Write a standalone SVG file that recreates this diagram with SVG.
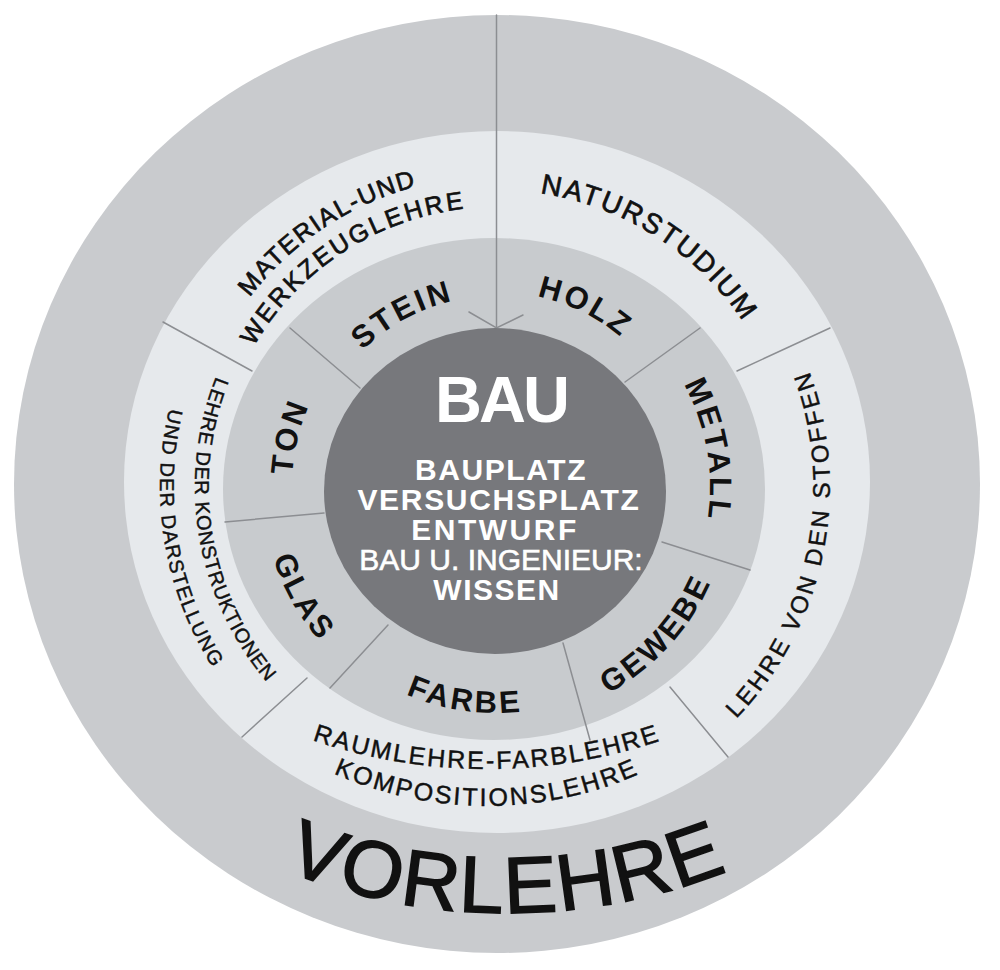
<svg xmlns="http://www.w3.org/2000/svg" xmlns:xlink="http://www.w3.org/1999/xlink" width="1000" height="970" viewBox="0 0 1000 970">
<style>
.bg{fill:#ffffff}
.r-outer{fill:#c9cbce}
.r-light{fill:#e6e9ec}
.r-mid{fill:#c8cbce}
.r-core{fill:#77787c}
.div{stroke:#8c8e92;stroke-width:1.5;fill:none;stroke-linecap:round}
.t{font-family:'Liberation Sans',Arial,sans-serif;fill:#111}
.lt{font-size:25px}
.heavy{stroke:#111;stroke-width:0.7}
.med{stroke:#111;stroke-width:0.45}
.md{font-size:31px;font-weight:bold;letter-spacing:3px}
.c{font-family:'Liberation Sans',Arial,sans-serif;fill:#ffffff;text-anchor:middle}
.cb{font-size:30px;font-weight:bold}
</style>
<defs>
<path id="p-material" d="M187.0,451.8 A311,311 0 0 1 584.3,188.8"/>
<path id="p-werkzeug" d="M218.1,452.9 A280,280 0 0 1 577.9,219.2"/>
<path id="p-natur" d="M406.7,203.7 A297,297 0 0 1 790.5,448.2"/>
<path id="p-konst" d="M304.5,254.7 A301,301 0 0 0 390.6,768.9"/>
<path id="p-darst" d="M281.8,228.1 A336,336 0 0 0 378.9,801.9"/>
<path id="p-stoffe" d="M601.4,803.9 A334,334 0 0 0 717.9,237.4"/>
<path id="p-raum" d="M216,696.4 A542,542 0 0 0 758,696.4"/>
<path id="p-komp" d="M270.2,737.6 A378,378 0 0 0 703.8,737.6"/>
<path id="p-vorl" d="M207,832.6 A600,600 0 0 0 807,832.6"/>
<path id="p-stein" d="M318.4,416.7 A191,191 0 0 1 534.4,299.9"/>
<path id="p-holz" d="M449.8,297.5 A195,195 0 0 1 674.6,408.6"/>
<path id="p-metall" d="M634.0,323.4 A214,214 0 0 1 681.0,594.5"/>
<path id="p-ton" d="M313.1,577.4 A204,204 0 0 1 375.2,322.6"/>
<path id="p-glas" d="M265.8,445.2 A234,234 0 0 0 414.8,706.5"/>
<path id="p-farbe" d="M327.3,637.3 A226,226 0 0 0 614.8,679.3"/>
<path id="p-gewebe" d="M526.7,720.0 A235,235 0 0 0 730.8,497.3"/>
</defs>
<rect class="bg" x="0" y="0" width="1000" height="970"/>

<g id="vorlehre">
<ellipse class="r-outer" cx="497" cy="484" rx="483" ry="469"/>
<text class="t" style="font-size:80px;letter-spacing:2px;stroke:#111;stroke-width:1.6"><textPath xlink:href="#p-vorl" href="#p-vorl" startOffset="50%" text-anchor="middle">VORLEHRE</textPath></text>
</g>

<g id="light-ring">
<ellipse class="r-light" cx="497" cy="482" rx="373" ry="351"/>
</g>

<g id="mid-ring">
<ellipse class="r-mid" cx="494" cy="489" rx="271" ry="251"/>
</g>

<g id="connectors">
<line class="div" x1="496.5" y1="15" x2="496.5" y2="328"/>
<polyline class="div" points="469,312 496.5,328 523,315"/>
<line class="div" x1="163" y1="322" x2="252" y2="371"/>
<line class="div" x1="830" y1="328" x2="737" y2="371"/>
<line class="div" x1="242" y1="737" x2="307" y2="678"/>
<line class="div" x1="670" y1="687" x2="728" y2="757"/>
<line class="div" x1="290" y1="328" x2="360" y2="388"/>
<line class="div" x1="700" y1="328" x2="625" y2="382"/>
<line class="div" x1="225" y1="522" x2="324" y2="513"/>
<line class="div" x1="330" y1="688" x2="388" y2="625"/>
<line class="div" x1="563" y1="643" x2="590" y2="740"/>
<line class="div" x1="662" y1="542" x2="750" y2="570"/>
</g>

<g id="bau">
<ellipse class="r-core" cx="495" cy="491" rx="171" ry="163"/>
<text class="c" x="501" y="422" style="font-size:65px;font-weight:bold;letter-spacing:-3px">BAU</text>
<text class="c cb" x="501" y="480" style="letter-spacing:1.6px">BAUPLATZ</text>
<text class="c cb" x="499" y="510" style="letter-spacing:1.7px">VERSUCHSPLATZ</text>
<text class="c cb" x="495" y="540" style="letter-spacing:2.5px">ENTWURF</text>
<text class="c" x="501" y="570" style="font-size:30px;stroke:#fff;stroke-width:0.6">BAU U. INGENIEUR:</text>
<text class="c cb" x="497" y="600" style="letter-spacing:1.5px">WISSEN</text>
</g>

<g id="material-werkzeuglehre">
<text class="t lt heavy" style="letter-spacing:1.6px"><textPath xlink:href="#p-material" href="#p-material" startOffset="50%" text-anchor="middle">MATERIAL-UND</textPath></text>
<text class="t lt heavy" style="letter-spacing:2.7px"><textPath xlink:href="#p-werkzeug" href="#p-werkzeug" startOffset="50%" text-anchor="middle">WERKZEUGLEHRE</textPath></text>
</g>

<g id="naturstudium">
<text class="t heavy" style="font-size:28px;letter-spacing:2.2px"><textPath xlink:href="#p-natur" href="#p-natur" startOffset="50%" text-anchor="middle">NATURSTUDIUM</textPath></text>
</g>

<g id="lehre-konstruktionen">
<text class="t med" style="font-size:20px;letter-spacing:0.8px"><textPath xlink:href="#p-konst" href="#p-konst" startOffset="50%" text-anchor="middle">LEHRE DER KONSTRUKTIONEN</textPath></text>
<text class="t med" style="font-size:20px;letter-spacing:1.4px"><textPath xlink:href="#p-darst" href="#p-darst" startOffset="50%" text-anchor="middle">UND DER DARSTELLUNG</textPath></text>
</g>

<g id="lehre-stoffen">
<text class="t med" style="font-size:24px;letter-spacing:3px"><textPath xlink:href="#p-stoffe" href="#p-stoffe" startOffset="50%" text-anchor="middle">LEHRE VON DEN STOFFEN</textPath></text>
</g>

<g id="raumlehre">
<text class="t lt med" style="letter-spacing:2.2px"><textPath xlink:href="#p-raum" href="#p-raum" startOffset="50%" text-anchor="middle">RAUMLEHRE-FARBLEHRE</textPath></text>
<text class="t lt med" style="letter-spacing:2.3px"><textPath xlink:href="#p-komp" href="#p-komp" startOffset="50%" text-anchor="middle">KOMPOSITIONSLEHRE</textPath></text>
</g>

<g id="stein"><text class="t md"><textPath xlink:href="#p-stein" href="#p-stein" startOffset="50%" text-anchor="middle">STEIN</textPath></text></g>
<g id="holz"><text class="t md"><textPath xlink:href="#p-holz" href="#p-holz" startOffset="50%" text-anchor="middle">HOLZ</textPath></text></g>
<g id="metall"><text class="t md"><textPath xlink:href="#p-metall" href="#p-metall" startOffset="50%" text-anchor="middle">METALL</textPath></text></g>
<g id="ton"><text class="t md"><textPath xlink:href="#p-ton" href="#p-ton" startOffset="50%" text-anchor="middle">TON</textPath></text></g>
<g id="glas"><text class="t md"><textPath xlink:href="#p-glas" href="#p-glas" startOffset="50%" text-anchor="middle">GLAS</textPath></text></g>
<g id="farbe"><text class="t md"><textPath xlink:href="#p-farbe" href="#p-farbe" startOffset="50%" text-anchor="middle">FARBE</textPath></text></g>
<g id="gewebe"><text class="t md"><textPath xlink:href="#p-gewebe" href="#p-gewebe" startOffset="50%" text-anchor="middle">GEWEBE</textPath></text></g>
</svg>
